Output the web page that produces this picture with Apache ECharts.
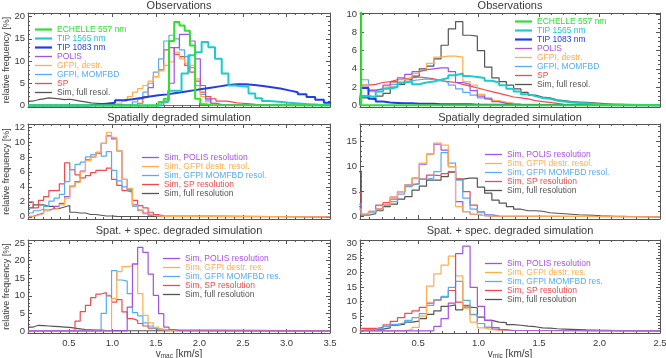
<!DOCTYPE html>
<html><head><meta charset="utf-8">
<script src="https://cdn.jsdelivr.net/npm/echarts@6/dist/echarts.min.js"></script>
<style>html,body{margin:0;padding:0;background:#fff}#c{width:666px;height:358px}</style>
</head><body><div id="c"></div>
<script>
// ---------- histogram bins: left edges at 0.03 + 0.06*k ----------
const BIN0 = 0.03, BINW = 0.06;

// ---------- Observations, v_mac (top-left) ----------
const macObsEchelle = [0.8, 1.5, 14.5, 18.8, 18.0, 16.8, 13.5, 1.5, 0.3, 0.1];            // from k=25
const macObsTip1565 = [0.8, 3.3, 3.3, 7.2, 11.3, 12.0, 14.3, 13.1, 10.5, 7.2, 4.5, 4.3, 4.2, 2.7, 1.6, 1.0, 0.9, 0.8, 0.6, 0.5, 0.4, 0.3, 0.2, 0.1, 0.1]; // x0 1.563, w 0.077
const macObsTip1083 = [0.2, 0.4, 0.6, 1.2, 1.4, 1.7, 2.0, 2.3, 2.5, 2.8, 3.1, 3.4, 3.7, 4.0, 4.3, 4.6, 4.8, 4.8, 4.6, 4.4, 4.1, 3.8, 3.4, 3.0, 2.5, 1.9, 1.3, 0.6]; // x0 0.73, w 0.1
const macObsPolis = [1.0, 5.0, 13.0, 16.0, 16.0, 14.5, 10.5, 4.5, 1.5, 0.5, 0.2];         // from k=26
const macObsGfpiDestr = [0.5, 1.0, 2.0, 3.0, 3.8, 4.5, 5.5, 6.5, 7.8, 9.0, 9.8, 12.0, 10.5, 9.5, 9.0, 6.0, 2.0, 0.8, 0.3, 0.1]; // from k=17
const macObsGfpiMomfbd = [0.3, 0.8, 1.5, 3.0, 5.0, 7.5, 10.5, 14.5, 15.8, 15.0, 12.5, 11.0, 8.5, 4.5, 2.5, 1.2, 0.5, 0.2]; // from k=19
const macObsSp = [0.5, 2.0, 4.0, 6.5, 8.0, 12.5, 13.0, 11.5, 11.0, 9.0, 7.5, 5.5, 3.0, 2.0, 1.5, 1.0, 1.0, 0.8, 0.6, 0.5, 0.4, 0.3, 0.2, 0.1]; // from k=21
const macObsSim = [1.0, 1.3, 1.5, 1.7, 1.6, 1.5, 1.3, 1.4, 1.2, 1.0, 0.8, 0.6, 0.5, 0.4, 0.3, 0.25, 0.2, 0.15, 0.1, 0.1, 0.05]; // from k=0

// ---------- Observations, v_mic (top-right) ----------
const micObsEchelle = [100];                                                                // from k=-1
const micObsTip1565 = [1.0, 0.9, 1.5, 1.8, 2.0, 2.5, 2.6, 2.3, 2.5, 2.6, 2.8, 3.0, 3.3, 3.5, 3.2, 3.1, 3.0, 2.7, 2.5, 2.2, 1.8, 1.5, 1.2, 1.0, 0.8, 0.7, 0.5, 0.4, 0.3, 0.25, 0.2, 0.15, 0.1];
const micObsTip1083 = [1.9, 0.7, 0.4, 0.3, 0.25, 0.2, 0.2, 0.15, 0.15, 0.15, 0.1, 0.1, 0.1, 0.1, 0.1, 0.05, 0.05];
const micObsPolis = [2.0, 1.6, 1.8, 2.2, 2.6, 3.0, 3.4, 3.7, 3.9, 4.0, 4.1, 4.1, 3.7, 2.5, 2.3, 1.6, 1.0, 0.7, 0.4, 0.2, 0.1];
const micObsGfpiDestr = [2.2, 1.5, 1.5, 2.0, 2.5, 2.8, 3.0, 3.5, 3.8, 4.6, 5.3, 5.4, 5.4, 5.3, 2.6, 2.2, 1.2, 0.8, 0.5, 0.3, 0.2, 0.1];
const micObsGfpiMomfbd = [2.8, 1.7, 1.8, 2.0, 2.3, 2.5, 2.7, 2.8, 2.9, 2.8, 2.7, 2.5, 2.2, 1.8, 1.4, 1.1, 0.8, 0.6, 0.4, 0.3, 0.2, 0.1];
const micObsSp = [2.2, 2.3, 2.5, 2.6, 2.8, 2.9, 3.0, 3.1, 3.0, 2.9, 2.7, 2.6, 2.5, 2.3, 2.1, 1.9, 1.7, 1.5, 1.3, 1.1, 0.9, 0.8, 0.7, 0.5, 0.4, 0.3, 0.2, 0.1];
const micObsSim = [0.8, 0.6, 1.0, 1.3, 2.0, 2.3, 2.8, 3.2, 4.0, 4.3, 5.1, 6.6, 8.4, 9.2, 7.7, 7.6, 6.0, 4.2, 3.0, 2.6, 2.2, 1.8, 1.4, 1.1, 0.9, 0.8, 0.6, 0.5, 0.4, 0.35, 0.3, 0.25, 0.2, 0.15, 0.1, 0.1, 0.05];

// ---------- Spatially degraded simulation, v_mac (middle-left), from k=0 ----------
const macSpPolis = [0.05, 0.3, 0.5, 0.9, 1.1, 1.4, 1.8, 2.7, 4.1, 4.7, 6.1, 7.6, 8.0, 8.5, 9.8, 10.8, 10.4, 8.8, 5.0, 3.7, 1.6, 0.9, 0.5, 0.2, 0.1];
const macSpGfpiDestr = [0, 0.2, 0.4, 0.8, 1.0, 1.2, 1.6, 2.5, 4.0, 4.6, 6.0, 7.5, 8.0, 8.6, 9.8, 11.3, 10.6, 8.8, 5.0, 3.8, 1.5, 0.9, 0.4, 0.2, 0.1, 0.05];
const macSpGfpiMomfbd = [0.5, 0.8, 1.0, 1.4, 2.1, 2.5, 3.0, 4.7, 6.3, 7.0, 7.3, 8.0, 8.3, 8.6, 8.1, 8.7, 6.2, 4.8, 4.0, 3.5, 1.4, 0.8, 0.4, 0.2, 0.1];
const macSpSp = [2.0, 1.2, 2.2, 2.7, 3.5, 3.5, 4.4, 7.2, 6.3, 5.6, 5.2, 5.5, 5.9, 6.2, 6.2, 6.5, 5.0, 4.2, 3.5, 3.3, 2.2, 1.5, 1.2, 0.6, 0.3, 0.1];
const macSpFull = [1.2, 1.6, 1.6, 1.4, 1.4, 1.1, 1.3, 1.5, 0.6, 0.5, 0.5, 0.3, 0.3, 0.2, 0.1, 0.1, 0.05];

// ---------- Spatially degraded simulation, v_mic (middle-right), from k=-1 ----------
const micSpPolis = [2.0, 0.5, 1.1, 1.5, 2.3, 3.9, 5.0, 6.3, 7.7, 10.5, 12.5, 14.5, 13.3, 10.0, 3.0, 1.0, 0.5, 0.2, 0.1];
const micSpGfpiDestr = [1.5, 0.5, 1.1, 1.5, 2.3, 3.9, 5.0, 6.3, 7.7, 10.7, 12.5, 14.7, 14.3, 10.0, 2.0, 1.0, 0.5, 0.2, 0.1];
const micSpGfpiMomfbd = [2.5, 0.3, 0.8, 1.5, 2.3, 3.0, 4.5, 6.0, 6.5, 7.5, 7.7, 9.0, 12.8, 10.7, 7.3, 3.7, 1.5, 0.8, 0.4, 0.2];
const micSpSp = [4.8, 0.5, 1.0, 2.3, 2.8, 3.5, 5.0, 6.3, 6.6, 7.5, 8.3, 8.2, 8.6, 9.0, 7.5, 5.0, 2.3, 1.0, 0.4, 0.1];
const micSpFull = [9.0, 0.3, 0.6, 1.2, 2.0, 2.5, 3.5, 4.0, 5.3, 6.1, 7.3, 7.3, 8.0, 8.9, 7.5, 7.7, 7.7, 5.9, 4.7, 3.3, 2.7, 2.0, 1.5, 1.2, 1.2, 1.1, 0.8, 0.7, 0.6, 0.5, 0.4, 0.35, 0.3, 0.2, 0.15, 0.1, 0.1, 0.05, 0.05];

// ---------- Spat. + spec. degraded simulation, v_mac (bottom-left) ----------
const macSsPolis = [6.8, 19.0, 23.8, 22.4, 16.2, 10.1, 4.9, 1.1, 0.4, 0.1];                 // from k=19
const macSsGfpiDestr = [9.2, 16.9, 18.3, 18.5, 19.2, 10.6, 4.4, 2.3, 1.1, 0.5, 0.2];        // from k=16
const macSsGfpiMomfbd = [5.0, 10.1, 17.2, 14.5, 14.2, 10.6, 5.2, 4.3, 2.3, 1.4, 0.7, 0.3];  // from k=14
const macSsSp = [2.8, 5.5, 7.3, 9.5, 10.5, 10.9, 10.0, 8.2, 8.9, 5.4, 3.5, 3.0, 2.1, 1.4, 0.8, 0.4, 0.2]; // from k=9
const macSsFull = [1.1, 1.6, 1.5, 1.4, 1.3, 1.2, 1.1, 1.0, 0.8, 0.6, 0.4, 0.3, 0.2, 0.2, 0.1, 0.1, 0.1, 0.05]; // from k=0

// ---------- Spat. + spec. degraded simulation, v_mic (bottom-right) ----------
const micSsPolis = [1.5, 4.2, 9.5, 26.4, 29.0, 14.9, 8.4, 3.6, 1.1, 0.4, 0.1];             // from k=10
const micSsGfpiDestr = [0.5, 1.2, 5.0, 15.3, 19.5, 22.5, 25.6, 18.8, 7.8, 3.0, 1.0, 0.4, 0.1]; // from k=6
const micSsGfpiMomfbd = [0.4, 0.5, 0.8, 1.5, 2.2, 2.7, 3.6, 4.5, 5.9, 8.7, 10.6, 11.8, 14.9, 16.9, 10.4, 5.6, 2.5, 1.2, 0.5, 0.2]; // from k=0
const micSsSp = [0.8, 0.8, 1.2, 2.0, 3.2, 4.5, 6.0, 6.8, 8.0, 9.5, 10.5, 11.5, 13.8, 9.8, 8.7, 5.5, 2.5, 1.2, 0.5, 0.2]; // from k=0
const micSsFull = [0.3, 0.4, 0.6, 1.0, 1.9, 2.3, 3.0, 3.3, 4.2, 5.6, 6.8, 8.4, 8.9, 7.2, 8.1, 7.9, 4.7, 3.6, 3.0, 2.8, 2.1, 1.9, 1.6, 1.4, 1.0, 0.9, 0.7, 0.6, 0.5, 0.4, 0.3, 0.25, 0.2, 0.15, 0.1, 0.05]; // from k=0

// ---------- labels ----------
const panelTitles = ['Observations', 'Observations', 'Spatially degraded simulation', 'Spatially degraded simulation',
  'Spat. + spec. degraded simulation', 'Spat. + spec. degraded simulation'];
const obsNames = ['ECHELLE 557 nm', 'TIP 1565 nm', 'TIP 1083 nm', 'POLIS', 'GFPI, destr.', 'GFPI, MOMFBD', 'SP', 'Sim, full resol.'];
const spNames = ['Sim, POLIS resolution', 'Sim, GFPI destr. resol.', 'Sim, GFPI MOMFBD resol.', 'Sim, SP resolution', 'Sim, full resolution'];
const ssNames = ['Sim, POLIS resolution', 'Sim, GFPI destr. res.', 'Sim, GFPI MOMFBD res.', 'Sim, SP resolution', 'Sim, full resolution'];
const macTicks = [0.5, 1.0, 1.5, 2.0, 2.5, 3.0, 3.5];
const micTicks = [0.5, 1.0, 1.5, 2.0, 2.5];
const yTicksTL = [0, 5, 10, 15, 20], yTicksTR = [0, 2, 4, 6, 8, 10], yTicksML = [0, 2, 4, 6, 8, 10, 12];
const yTicksMR = [0, 5, 10, 15], yTicksBL = [0, 5, 10, 15, 20, 25], yTicksBR = [0, 5, 10, 15, 20, 25, 30];

// ---------- styling ----------
const FONT = 'Liberation Sans';
const FRAME = '#555', TXT = '#3a3a3a';
const COL = {green:'#2fe02f', cyan:'#1ccccc', blue:'#1f3fe6', purple:'#a552e0', orange:'#ffad4d', lblue:'#55acf2', red:'#f24a4a', gray:'#555555'};
const obsColors = [COL.green, COL.cyan, COL.blue, COL.purple, COL.orange, COL.lblue, COL.red, COL.gray];
const obsThick = [true, true, true, false, false, false, false, false];
const simColors = [COL.purple, COL.orange, COL.lblue, COL.red, COL.gray];

const grids = [
  {left: 28, top: 13, width: 302, height: 94},
  {left: 360, top: 13, width: 300, height: 94},
  {left: 28, top: 124, width: 302, height: 95},
  {left: 360, top: 124, width: 300, height: 95},
  {left: 28, top: 240, width: 302, height: 93},
  {left: 360, top: 240, width: 300, height: 93}
].map(g => Object.assign({containLabel: false, outerBoundsMode: 'none'}, g));

function steps(a, b, d) { const r = []; for (let v = a; v <= b + 1e-9; v += d) r.push(+v.toFixed(3)); return r; }

const xAxes = [], yAxes = [], series = [];
function addAxes(g, xr, xMajor, xMinor, yr, yMajor, yMinor, showX, xName, yName) {
  const base = {gridIndex: g, type: 'value', splitLine: {show: false}, axisPointer: {show: false}};
  const xi = xAxes.length, yi = yAxes.length;
  ['bottom', 'top'].forEach(pos => {
    xAxes.push(Object.assign({}, base, {position: pos, min: xr[0], max: xr[1],
      axisLine: {show: true, onZero: false, lineStyle: {color: FRAME, width: 1}},
      axisTick: {show: true, inside: true, length: 4, customValues: xMajor, lineStyle: {color: FRAME}},
      axisLabel: {show: pos === 'bottom' && showX, customValues: xMajor, formatter: v => v.toFixed(1), margin: 5,
        fontFamily: FONT, fontSize: 9.5, color: TXT},
      name: pos === 'bottom' && xName ? xName : '', nameLocation: 'middle', nameGap: 14,
      nameTextStyle: {fontFamily: FONT, color: TXT, rich: {a: {fontSize: 10, fontFamily: FONT, color: TXT}, b: {fontSize: 6.5, fontFamily: FONT, color: TXT, padding: [5, 0, 0, 0]}}}
    }));
    xAxes.push(Object.assign({}, base, {position: pos, min: xr[0], max: xr[1],
      axisLine: {show: false, onZero: false}, axisLabel: {show: false},
      axisTick: {show: true, inside: true, length: 2, customValues: xMinor, lineStyle: {color: FRAME}}}));
  });
  ['left', 'right'].forEach(pos => {
    yAxes.push(Object.assign({}, base, {position: pos, min: yr[0], max: yr[1],
      axisLine: {show: true, onZero: false, lineStyle: {color: FRAME, width: 1}},
      axisTick: {show: true, inside: true, length: 4, customValues: yMajor, lineStyle: {color: FRAME}},
      axisLabel: {show: pos === 'left', customValues: yMajor, margin: 3, fontFamily: FONT, fontSize: 9.5, color: TXT, padding: [0, 0, 3, 0]},
      name: pos === 'left' && yName ? yName : '', nameLocation: 'middle', nameGap: 16, nameRotate: 90,
      nameTextStyle: {fontFamily: FONT, fontSize: 9, color: TXT}
    }));
    yAxes.push(Object.assign({}, base, {position: pos, min: yr[0], max: yr[1],
      axisLine: {show: false, onZero: false}, axisLabel: {show: false},
      axisTick: {show: true, inside: true, length: 2, customValues: yMinor, lineStyle: {color: FRAME}}}));
  });
  return {xi, yi, xr};
}

function hist(x0, w, vals, xr) {
  const pts = [];
  if (x0 > xr[0]) pts.push([xr[0], 0], [x0, 0]);
  vals.forEach((v, i) => pts.push([x0 + i * w, v]));
  const xe = x0 + vals.length * w;
  pts.push([xe, 0]);
  if (xe < xr[1]) pts.push([xr[1], 0]);
  return pts;
}
const kx = k => BIN0 + k * BINW;

function addSeries(ax, name, color, width, data) {
  series.push({type: 'line', name, xAxisIndex: ax.xi, yAxisIndex: ax.yi, data, step: 'end',
    symbol: 'none', showSymbol: false, silent: true, animation: false, clip: true,
    lineStyle: {color, width}, itemStyle: {color}});
}

const MAC = [0.03, 3.5], MIC = [0.02, 2.5];
const macMinor = steps(0.1, 3.4, 0.1), micMinor = steps(0.1, 2.4, 0.1);
const YN = 'relative frequency [%]';

// Top-left
let ax = addAxes(0, MAC, macTicks, macMinor, [-0.34, 20.8], yTicksTL, steps(0, 20, 1), false, '', YN);
addSeries(ax, obsNames[7], COL.gray, 1.2, hist(kx(0), BINW, macObsSim, MAC));
addSeries(ax, obsNames[6], COL.red, 1.2, hist(kx(21), BINW, macObsSp, MAC));
addSeries(ax, obsNames[5], COL.lblue, 1.2, hist(kx(19), BINW, macObsGfpiMomfbd, MAC));
addSeries(ax, obsNames[4], COL.orange, 1.2, hist(kx(17), BINW, macObsGfpiDestr, MAC));
addSeries(ax, obsNames[3], COL.purple, 1.2, hist(kx(26), BINW, macObsPolis, MAC));
addSeries(ax, obsNames[2], COL.blue, 2, hist(0.73, 0.1, macObsTip1083, MAC));
addSeries(ax, obsNames[1], COL.cyan, 2, hist(1.563, 0.077, macObsTip1565, MAC));
addSeries(ax, obsNames[0], COL.green, 2, hist(kx(25), BINW, macObsEchelle, MAC));

// Top-right
ax = addAxes(1, MIC, micTicks, micMinor, [-0.2, 10.15], yTicksTR, steps(0, 10, 0.5), false, '', '');
addSeries(ax, obsNames[7], COL.gray, 1.2, hist(kx(0), BINW, micObsSim, MIC));
addSeries(ax, obsNames[6], COL.red, 1.2, hist(kx(0), BINW, micObsSp, MIC));
addSeries(ax, obsNames[5], COL.lblue, 1.2, hist(kx(0), BINW, micObsGfpiMomfbd, MIC));
addSeries(ax, obsNames[4], COL.orange, 1.2, hist(kx(0), BINW, micObsGfpiDestr, MIC));
addSeries(ax, obsNames[3], COL.purple, 1.2, hist(kx(0), BINW, micObsPolis, MIC));
addSeries(ax, obsNames[2], COL.blue, 2, hist(kx(0), BINW, micObsTip1083, MIC));
addSeries(ax, obsNames[1], COL.cyan, 2, hist(kx(0), BINW, micObsTip1565, MIC));
addSeries(ax, obsNames[0], COL.green, 2, hist(kx(-1), BINW, micObsEchelle, MIC));

// Middle-left
ax = addAxes(2, MAC, macTicks, macMinor, [-0.3, 12.4], yTicksML, steps(0, 12, 0.5), false, '', YN);
addSeries(ax, spNames[4], COL.gray, 1.2, hist(kx(0), BINW, macSpFull, MAC));
addSeries(ax, spNames[3], COL.red, 1.2, hist(kx(0), BINW, macSpSp, MAC));
addSeries(ax, spNames[2], COL.lblue, 1.2, hist(kx(0), BINW, macSpGfpiMomfbd, MAC));
addSeries(ax, spNames[0], COL.purple, 1.2, hist(kx(0), BINW, macSpPolis, MAC));
addSeries(ax, spNames[1], COL.orange, 1.2, hist(kx(0), BINW, macSpGfpiDestr, MAC));

// Middle-right
ax = addAxes(3, MIC, micTicks, micMinor, [-0.45, 18.5], yTicksMR, steps(0, 18, 1), false, '', '');
addSeries(ax, spNames[4], COL.gray, 1.2, hist(kx(-1), BINW, micSpFull, MIC));
addSeries(ax, spNames[3], COL.red, 1.2, hist(kx(-1), BINW, micSpSp, MIC));
addSeries(ax, spNames[2], COL.lblue, 1.2, hist(kx(-1), BINW, micSpGfpiMomfbd, MIC));
addSeries(ax, spNames[0], COL.purple, 1.2, hist(kx(-1), BINW, micSpPolis, MIC));
addSeries(ax, spNames[1], COL.orange, 1.2, hist(kx(-1), BINW, micSpGfpiDestr, MIC));

// Bottom-left
ax = addAxes(4, MAC, macTicks, macMinor, [-0.6, 25.9], yTicksBL, steps(0, 25, 1), true, '{a|v}{b|mac}{a| [km/s]}', YN);
addSeries(ax, ssNames[4], COL.gray, 1.2, hist(kx(0), BINW, macSsFull, MAC));
addSeries(ax, ssNames[3], COL.red, 1.2, hist(kx(9), BINW, macSsSp, MAC));
addSeries(ax, ssNames[2], COL.lblue, 1.2, hist(kx(14), BINW, macSsGfpiMomfbd, MAC));
addSeries(ax, ssNames[1], COL.orange, 1.2, hist(kx(16), BINW, macSsGfpiDestr, MAC));
addSeries(ax, ssNames[0], COL.purple, 1.2, hist(kx(19), BINW, macSsPolis, MAC));

// Bottom-right
ax = addAxes(5, MIC, micTicks, micMinor, [-0.75, 31.1], yTicksBR, steps(0, 31, 1), true, '{a|v}{b|mic}{a| [km/s]}', '');
addSeries(ax, ssNames[4], COL.gray, 1.2, hist(kx(0), BINW, micSsFull, MIC));
addSeries(ax, ssNames[3], COL.red, 1.2, hist(kx(0), BINW, micSsSp, MIC));
addSeries(ax, ssNames[2], COL.lblue, 1.2, hist(kx(0), BINW, micSsGfpiMomfbd, MIC));
addSeries(ax, ssNames[1], COL.orange, 1.2, hist(kx(6), BINW, micSsGfpiDestr, MIC));
addSeries(ax, ssNames[0], COL.purple, 1.2, hist(kx(10), BINW, micSsPolis, MIC));

const ICON_THIN = 'path://M0 0h17v1.3h-17z', ICON_THICK = 'path://M0 0h17v2.2h-17z';
function legend(names, colors, thick, left, top) {
  return {left, top, orient: 'vertical', itemGap: 0, itemWidth: 17, itemHeight: 8, itemTextGap: 3, padding: 0,
    selectedMode: false, textStyle: {fontFamily: FONT, fontSize: 8.5, lineHeight: 8},
    data: names.map((n, i) => ({name: n, icon: thick[i] ? ICON_THICK : ICON_THIN,
      itemStyle: {color: colors[i]}, textStyle: {color: colors[i]}}))};
}
const noThick = [false, false, false, false, false];
const legends = [
  legend(obsNames, obsColors, obsThick, 35, 25),
  legend(obsNames, obsColors, obsThick, 515, 17),
  legend(spNames, simColors, noThick, 142, 153),
  legend(spNames, simColors, noThick, 485, 150),
  legend(ssNames, simColors, noThick, 163, 254),
  legend(ssNames, simColors, noThick, 485, 259)
];

const titleCenters = [179, 510, 179, 510, 179, 510];
const titleTops = [0, 0, 112, 112, 225.5, 225.5];
const titles = panelTitles.map((t, i) => ({text: t, left: titleCenters[i], top: titleTops[i], textAlign: 'center', padding: 0,
  textStyle: {fontFamily: FONT, fontSize: 11, fontWeight: 'normal', color: TXT, lineHeight: 11}}));

const chart = echarts.init(document.getElementById('c'), null, {renderer: 'canvas'});
chart.setOption({animation: false, backgroundColor: '#fff', title: titles, legend: legends,
  grid: grids, xAxis: xAxes, yAxis: yAxes, series});
</script></body></html>
